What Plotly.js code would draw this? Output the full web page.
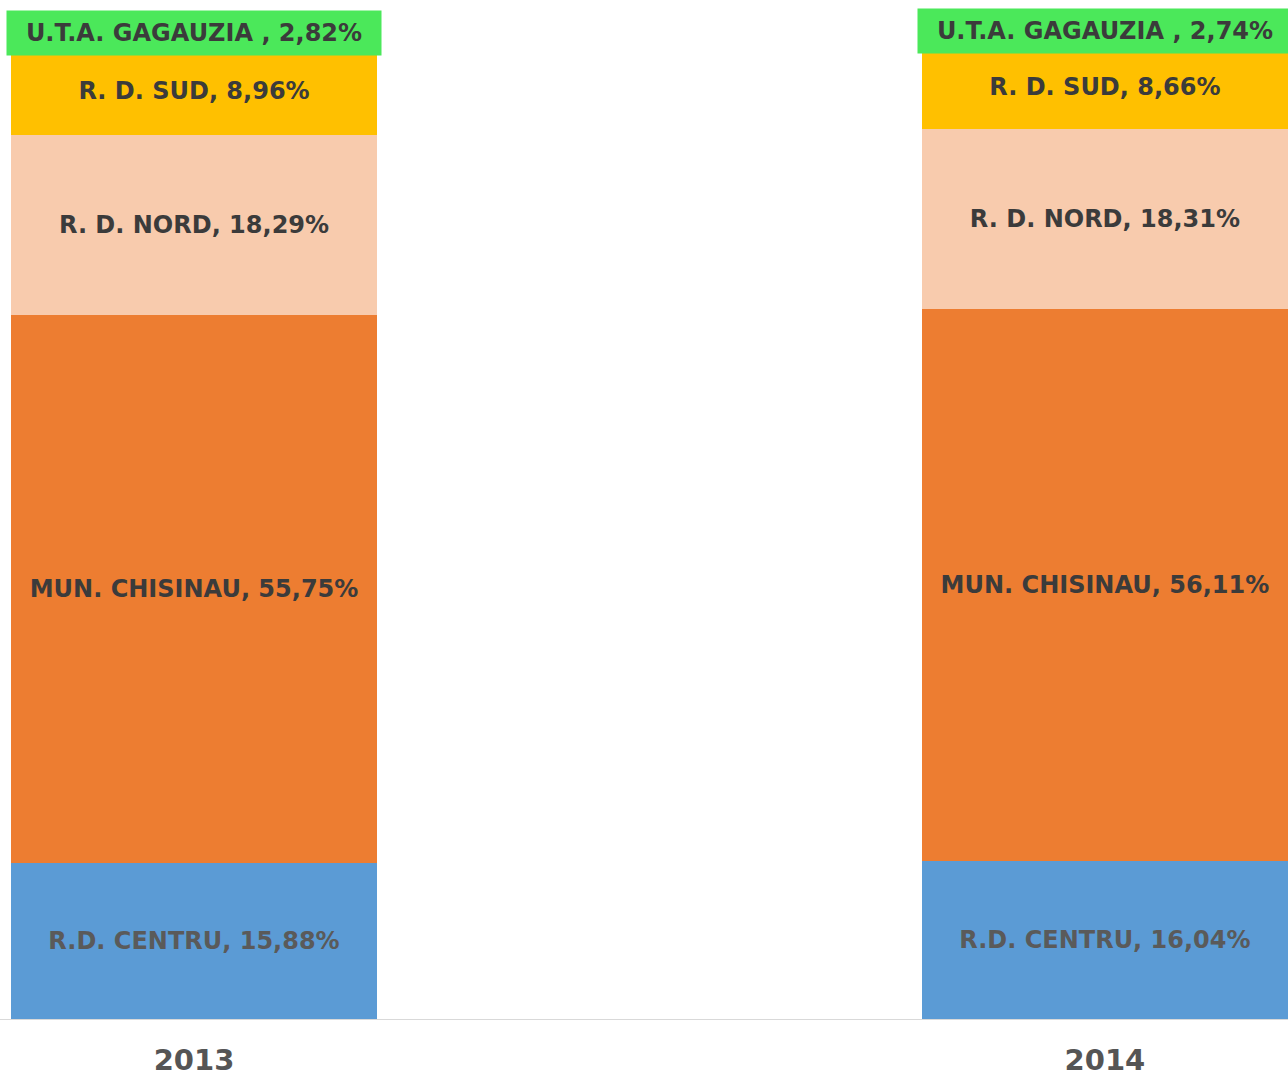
<!DOCTYPE html>
<html><head><meta charset="utf-8">
<script src="https://cdn.plot.ly/plotly-3.0.1.min.js"></script>
<style>html,body{margin:0;padding:0;background:#fff}#chart{width:1288px;height:1081px}</style>
</head><body><div id="chart"></div>
<script>
const years = ['2013', '2014'];
const centru = [15.88, 16.04];
const chisinau = [55.75, 56.11];
const nord = [18.29, 18.31];
const sud = [8.96, 8.66];
const gagauzia = [2.82, 2.74];
const names = ['R.D. CENTRU', 'MUN. CHISINAU', 'R. D. NORD', 'R. D. SUD', 'U.T.A. GAGAUZIA '];
const colors = ['#5B9BD5', '#ED7D31', '#F8CBAD', '#FFC000', '#4BE85A'];
const textColors = ['#5a5a5a', '#3b3b3b', '#3b3b3b', '#3b3b3b', '#3b3b3b'];
const series = [centru, chisinau, nord, sud, gagauzia];

const fmt = v => v.toFixed(2).replace('.', ',') + '%';
const FONT = 'DejaVu Sans';

const traces = series.map((vals, i) => ({
  type: 'bar', x: years, y: vals, name: names[i],
  marker: {color: colors[i], line: {width: 0}},
  text: i < 4 ? vals.map(v => '<b>' + names[i] + ', ' + fmt(v) + '</b>') : vals.map(() => ''),
  textposition: i < 4 ? 'inside' : 'none',
  insidetextanchor: 'middle',
  textangle: 0,
  constraintext: 'none',
  textfont: {family: FONT, size: 24, color: textColors[i]},
  hoverinfo: 'skip'
}));

const annotations = years.map((yr, j) => {
  const base = centru[j] + chisinau[j] + nord[j] + sud[j];
  return {
    x: j, y: base + gagauzia[j] / 2, xref: 'x', yref: 'y',
    text: '<b>' + names[4] + ', ' + fmt(gagauzia[j]) + '</b>',
    showarrow: false, bgcolor: '#4BE85A',
    width: 370, height: 40, borderpad: 2,
    font: {family: FONT, size: 24, color: '#3b3b3b'}
  };
});

const layout = {
  width: 1288, height: 1081,
  margin: {l: 0, r: 0, t: 11, b: 62},
  barmode: 'stack', bargap: 0.598,
  showlegend: false,
  paper_bgcolor: '#fff', plot_bgcolor: '#fff',
  xaxis: {type: 'category', range: [-0.213, 1.201], showline: true, linecolor: '#d9d9d9', linewidth: 1,
    showgrid: false, zeroline: false, ticks: 'outside', ticklen: 15, tickcolor: 'rgba(0,0,0,0)',
    tickfont: {family: FONT, size: 29, color: '#555555'}, fixedrange: true,
    tickvals: years, ticktext: years.map(y => '<b>' + y + '</b>')},
  yaxis: {range: [0, 102.5], visible: false, showgrid: false, zeroline: false, fixedrange: true},
  annotations: annotations
};

Plotly.newPlot('chart', traces, layout, {displayModeBar: false, staticPlot: true});
</script></body></html>
